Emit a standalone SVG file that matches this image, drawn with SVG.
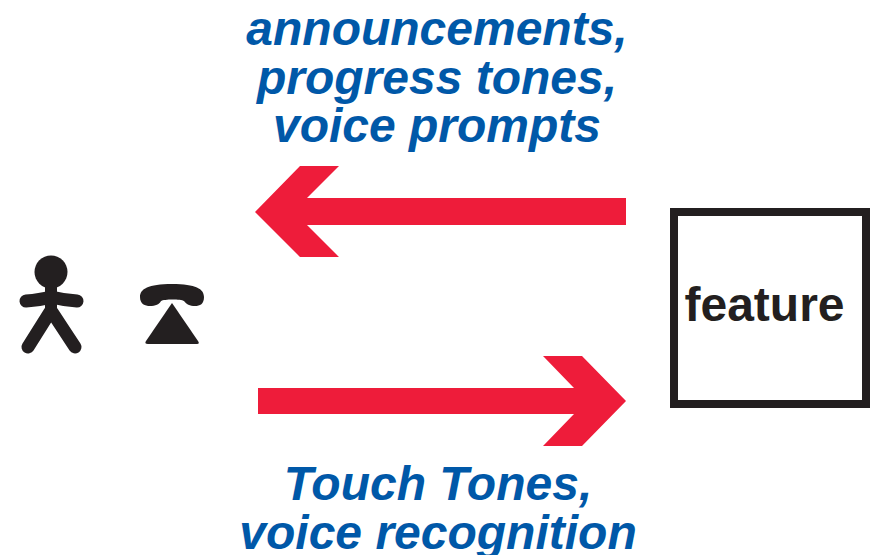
<svg xmlns="http://www.w3.org/2000/svg" width="875" height="555" viewBox="0 0 875 555">
<style>
.lbl{font-family:"Liberation Sans",Arial,sans-serif;font-weight:bold;font-style:italic;font-size:48px;fill:#0058a8;text-anchor:middle}
.ink{fill:#231f20}
.limb{fill:none;stroke:#231f20;stroke-width:13px;stroke-linecap:round;stroke-linejoin:round}
.arrow{fill:#ee1c3a}
</style>
<rect width="875" height="555" fill="#fff"/>
<g id="label-top">
<text class="lbl" x="437" y="45">announcements,</text>
<text class="lbl" x="437" y="94">progress tones,</text>
<text class="lbl" x="437" y="142">voice prompts</text>
</g>
<g id="connectors">
<polygon class="arrow" points="626,198 307,198 339,166 300,166 255,212 300,257 339,257 307,225 626,225"/>
<polygon class="arrow" points="258,388 574,388 543,356 582,356 626,401 582,446 543,446 574,414 258,414"/>
</g>
<g id="person">
<circle class="ink" cx="51" cy="272" r="16.5"/>
<path class="ink" d="M45,285H57V316H45Z"/>
<path class="limb" d="M26,301Q40,300 51,297Q63,300 77,301"/>
<path class="limb" d="M50,312L28,347M52,312L75,347"/>
</g>
<g id="phone">
<path class="ink" d="M140,297C140,289 148,284 172,284C196,284 204,289 204,297C204,304 200,306 195,306C190,306 186,304 184,301C181,299 164,299 161,301C160,304 155,306 150,306C145,306 140,304 140,297Z"/>
<path class="ink" d="M172,303L198,341Q200,344 197,344H148Q144,344 146,341Z"/>
</g>
<g id="feature">
<rect x="674" y="212" width="192" height="192" fill="#fff" stroke="#231f20" stroke-width="8"/>
<text x="764.5" y="321" font-family="'Liberation Sans',Arial,sans-serif" font-weight="bold" font-size="48" fill="#231f20" text-anchor="middle">feature</text>
</g>
<g id="label-bottom">
<text class="lbl" x="438" y="500">Touch Tones,</text>
<text class="lbl" x="438" y="549">voice recognition</text>
</g>
</svg>
